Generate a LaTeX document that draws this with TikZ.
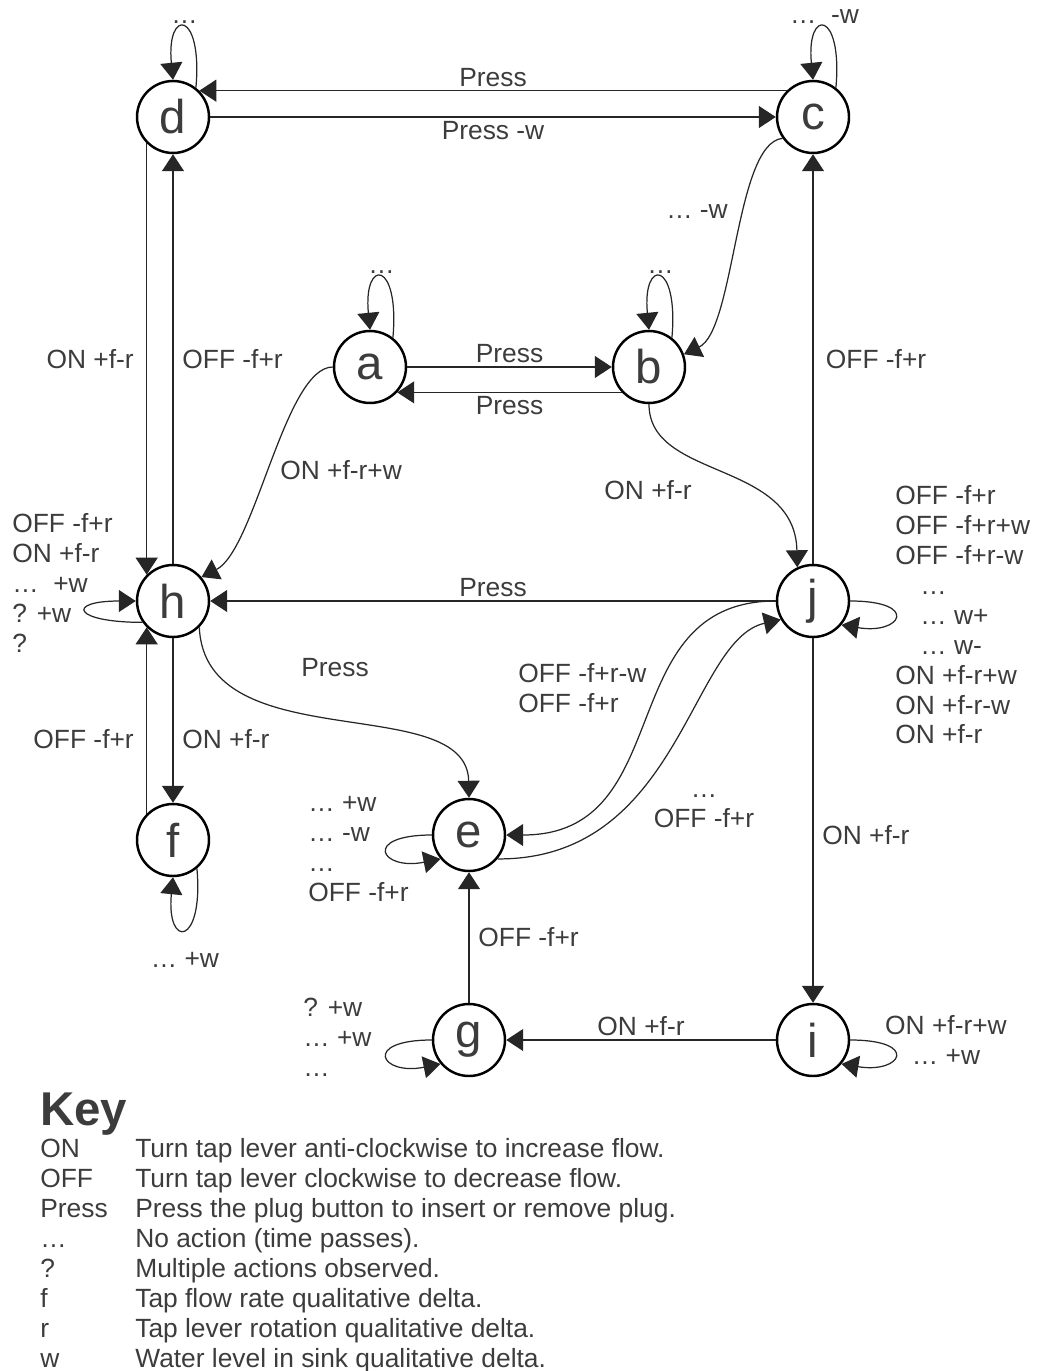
\documentclass[tikz,border=0pt]{standalone}
\usepackage{fontspec}
\setmainfont{Liberation Sans}
\usepackage{tikz}
\usetikzlibrary{arrows.meta,positioning}
\definecolor{ink}{HTML}{3C3C3C}

\begin{document}
\begin{tikzpicture}[x=0.02cm, y=0.02cm,
  state/.style={circle, draw, line width=1.4pt, minimum size=1.44cm, inner sep=0pt, text=ink, font=\fontsize{27}{27}\selectfont},
  arrow/.style={-{Triangle[length=0.34cm, width=0.44cm]}, draw=black!85, line width=0.7pt},
  lab/.style={text=ink, inner sep=2pt, font=\fontsize{15}{17}\selectfont},
  blk/.style={lab, inner sep=0pt, align=left}
]
\useasboundingbox (0,0) rectangle (1036,-1371);

% states
\node[state] (d) at (173,-117) {d};
\node[state] (c) at (813,-117) {c};
\node[state] (a) at (370,-367) {a};
\node[state] (b) at (649,-367) {b};
\node[state] (h) at (173,-601) {h};
\node[state] (j) at (813,-601) {j};
\node[state] (f) at (173,-840) {f};
\node[state] (e) at (469,-835) {e};
\node[state] (g) at (469,-1040) {g};
\node[state] (i) at (813,-1040) {i};

% straight transitions
\draw[arrow] (c.135) -- node[lab, above]{Press} (d.45);
\draw[arrow] (d.east) -- node[lab, below]{Press -w} (c.west);
\draw[arrow] (a.east) -- node[lab, above]{Press} (b.west);
\draw[arrow] (b.-137) -- node[lab, below]{Press} (a.-43);
\draw[arrow] (d.225) -- node[lab, left=5pt]{ON +f-r} (h.135);
\draw[arrow] (h.north) -- node[lab, right=3pt]{OFF -f+r} (d.south);
\draw[arrow] (h.south) -- node[lab, right=3pt, pos=0.61]{ON +f-r} (f.north);
\draw[arrow] (f.135) -- node[lab, left=5pt, pos=0.4]{OFF -f+r} (h.225);
\draw[arrow] (j.north) -- node[lab, right=5pt]{OFF -f+r} (c.south);
\draw[arrow] (j.west) -- node[lab, above]{Press} (h.east);
\draw[arrow] (j.south) -- node[lab, right=3pt, pos=0.54]{ON +f-r} (i.north);
\draw[arrow] (i.west) -- node[lab, above]{ON +f-r} (g.east);
\draw[arrow] (g.north) -- node[lab, right=3pt]{OFF -f+r} (e.south);

% curved transitions
\draw[arrow] (c.215) .. controls (735,-143) and (735,-330) .. (b.20);
\draw[arrow] (a.west) .. controls (285,-367) and (255,-550) .. (h.40);
\draw[arrow] (b.south) .. controls (649,-480) and (795,-460) .. (j.115);
\draw[arrow] (h.-45) .. controls (205,-760) and (467,-690) .. (e.north);
\draw[arrow] (j.west) .. controls (610,-601) and (680,-835) .. (e.east);
\draw[arrow] (e.-40) .. controls (680,-860) and (690,-640) .. (j.210);

\node[lab] (cblab) at (697,-212) {… -w};
\node[blk, anchor=west] (ahlab) at (280,-470) {ON +f-r+w};
\node[lab] (bjlab) at (648,-490) {ON +f-r};
\node[lab] (helab) at (335,-668) {Press};
\node[blk, anchor=west] (jelab) at (518,-688) {OFF -f+r-w\\OFF -f+r};
\node[blk, align=center] (ejlab) at (704,-811) {…\\OFF -f+r};

% self loops
\draw[arrow] (d.52) .. controls +(7,78) and +(-7,72) .. node[lab, above]{…} (d.north);
\draw[arrow] (c.52) .. controls +(7,78) and +(-7,72) .. node[lab, above]{…\ \ -w} (c.north);
\draw[arrow] (a.52) .. controls +(7,78) and +(-7,72) .. node[lab, above]{…} (a.north);
\draw[arrow] (b.52) .. controls +(7,78) and +(-7,72) .. node[lab, above]{…} (b.north);
\draw[arrow] (f.-50) .. controls +(7,-78) and +(-7,-72) .. node[lab, below=11pt]{… +w} (f.south);
\draw[arrow] (h.215) .. controls +(-70,0) and +(-70,0) .. (h.west);
\draw[arrow] (e.west) .. controls +(-70,0) and +(-60,-12) .. (e.220);
\draw[arrow] (g.west) .. controls +(-70,0) and +(-60,-12) .. (g.220);
\draw[arrow] (j.east) .. controls +(70,0) and +(60,-10) .. (j.-40);
\draw[arrow] (i.east) .. controls +(70,0) and +(60,-10) .. (i.-40);

\node[blk, anchor=west] (hlab) at (12,-583) {OFF -f+r\\ON +f-r\\…\ \ +w\\? +w\\?};
\node[blk, anchor=west] (jlab) at (895,-615) {OFF -f+r\\OFF -f+r+w\\OFF -f+r-w\\\hspace*{0.5cm}…\\\hspace*{0.5cm}… w+\\\hspace*{0.5cm}… w-\\ON +f-r+w\\ON +f-r-w\\ON +f-r};
\node[blk, anchor=west] (elab) at (308,-849) {… +w\\… -w\\…\\OFF -f+r};
\node[blk, anchor=west] (glab) at (303,-1037) {? +w\\… +w\\…};
\node[blk, align=center] (ilab) at (946,-1040) {ON +f-r+w\\… +w};

% key
\node[anchor=base west, inner sep=0pt, text=ink, font=\bfseries\fontsize{27}{27}\selectfont] (key) at (40,-1125) {Key};
\foreach \term/\desc [count=\k] in {ON/Turn tap lever anti-clockwise to increase flow., OFF/Turn tap lever clockwise to decrease flow., Press/Press the plug button to insert or remove plug., …/No action (time passes)., ?/Multiple actions observed., f/Tap flow rate qualitative delta., r/Tap lever rotation qualitative delta., w/Water level in sink qualitative delta.}
  {\node[blk, anchor=base west] (term\k) at (40,{-1127.5-30*\k}) {\term};
   \node[blk, anchor=base west] (desc\k) at (135,{-1127.5-30*\k}) {\desc};}
\end{tikzpicture}
\end{document}
